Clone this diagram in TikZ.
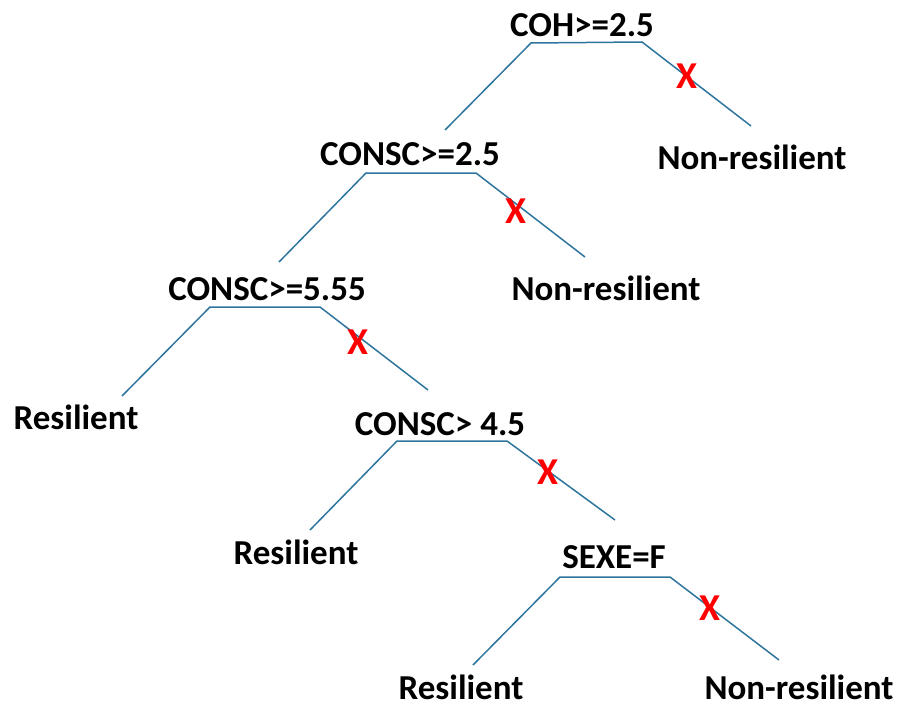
\documentclass[tikz,border=0pt]{standalone}
\usepackage{fontspec}
\setmainfont{Carlito}
\definecolor{edgeblue}{RGB}{46,117,158}
\definecolor{xred}{RGB}{255,0,0}
\begin{document}
\begin{tikzpicture}[x=1pt,y=-1pt,
  lbl/.style={font=\fontsize{35}{40}\selectfont\bfseries, text=black, anchor=base, inner sep=0pt},
  xmark/.style={font=\fontsize{38}{42}\selectfont\bfseries, text=xred, inner sep=0pt},
  edge/.style={draw=edgeblue, line width=1.5pt, line join=round}]
\useasboundingbox (0,0) rectangle (907,706);
% labels
\node[lbl] (n1) at (582,37) {COH>=2.5};
\node[lbl] (n2) at (410,165) {CONSC>=2.5};
\node[lbl] (r1) at (752,169) {Non-resilient};
\node[lbl] (n3) at (267,300) {CONSC>=5.55};
\node[lbl] (r2) at (606,300) {Non-resilient};
\node[lbl] (l1) at (76,429) {Resilient};
\node[lbl] (n4) at (440,435) {CONSC> 4.5};
\node[lbl] (l2) at (296,564) {Resilient};
\node[lbl] (n5) at (614,568) {SEXE=F};
\node[lbl] (l3) at (461,699) {Resilient};
\node[lbl] (r3) at (799,699) {Non-resilient};
% split shapes
\coordinate (a1) at (445,130); \coordinate (t1l) at (531,43); \coordinate (t1r) at (642,42); \coordinate (b1) at (751,126);
\coordinate (a2) at (279,262); \coordinate (t2l) at (366,173); \coordinate (t2r) at (476,173); \coordinate (b2) at (585,257);
\coordinate (a3) at (122,396); \coordinate (t3l) at (210,307); \coordinate (t3r) at (320,307); \coordinate (b3) at (428,390);
\coordinate (a4) at (310,530); \coordinate (t4l) at (397,441); \coordinate (t4r) at (507,441); \coordinate (b4) at (615,520);
\coordinate (a5) at (473,665); \coordinate (t5l) at (560,577); \coordinate (t5r) at (670,577); \coordinate (b5) at (779,660);
\draw[edge] (a1) -- (t1l) -- (t1r) -- (b1);
\draw[edge] (a2) -- (t2l) -- (t2r) -- (b2);
\draw[edge] (a3) -- (t3l) -- (t3r) -- (b3);
\draw[edge] (a4) -- (t4l) -- (t4r) -- (b4);
\draw[edge] (a5) -- (t5l) -- (t5r) -- (b5);
% X marks
\node[xmark] (x1) at (687,76) {X};
\node[xmark] (x2) at (516,211) {X};
\node[xmark] (x3) at (358,342) {X};
\node[xmark] (x4) at (548,472) {X};
\node[xmark] (x5) at (710,608) {X};
\end{tikzpicture}
\end{document}
